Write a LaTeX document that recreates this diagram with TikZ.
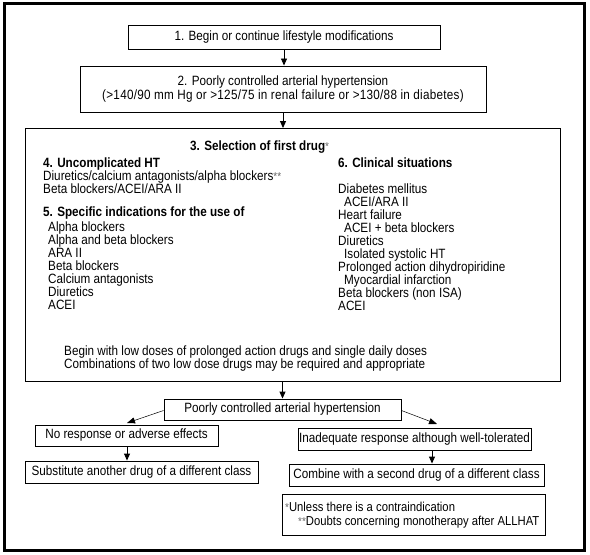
\documentclass[tikz,border=0pt]{standalone}
\usepackage{fontspec}
\setmainfont{Liberation Sans}[FakeStretch=0.87]
\usetikzlibrary{arrows.meta,calc}
\newcommand{\myast}[1]{{\mdseries\fontsize{11.5}{11.5}\selectfont\textcolor{black!60}{#1}}}
\begin{document}
\begin{tikzpicture}[x=1bp,y=-1bp,
  font=\fontsize{13.5}{13.5}\selectfont,
  box/.style={draw, line width=0.9bp, inner sep=0pt, align=center},
  txt/.style={anchor=west, inner sep=0pt, text height=9.5bp, text depth=3bp},
  hd/.style={txt, font=\fontsize{13.5}{13.5}\selectfont\bfseries},
  fnt/.style={txt, font=\fontsize{13}{13}\selectfont},
  arr/.style={-{Triangle[length=7bp,width=6bp]}, line width=0.9bp},
  tarr/.style={-{Triangle[length=8bp,width=6bp]}, line width=0.5bp}]
\useasboundingbox (0,0) rectangle (590,555);
\draw[line width=3bp] (4,4) rectangle (584,550);

\node[box, minimum width=312bp, minimum height=24bp] (b1) at (284,37)
  {1. Begin or continue lifestyle modifications};
\node[box, minimum width=406bp, minimum height=46bp] (b2) at (283,89)
  {2. Poorly controlled arterial hypertension\\
   {\addfontfeature{LetterSpace=2}(>140/90 mm Hg or >125/75 in renal failure or >130/88 in diabetes)}};
\node[box, minimum width=535bp, minimum height=253bp] (b3) at (292.5,255) {};

\node[txt] (t3) at (190,147) {\bfseries 3. Selection of first drug\myast{*}};
\node[hd] (t4) at (43,164) {4. Uncomplicated HT};
\node[txt] (t4a) at (43,177) {Diuretics/calcium antagonists/alpha blockers\myast{**}};
\node[txt] (t4b) at (43,190) {Beta blockers/ACEI/ARA II};
\node[hd] (t5) at (43,213) {5. Specific indications for the use of};
\node[txt] (t5a) at (48,228) {Alpha blockers};
\node[txt] (t5b) at (48,241) {Alpha and beta blockers};
\node[txt] (t5c) at (48,254) {ARA II};
\node[txt] (t5d) at (48,267) {Beta blockers};
\node[txt] (t5e) at (48,280) {Calcium antagonists};
\node[txt] (t5f) at (48,293) {Diuretics};
\node[txt] (t5g) at (48,306) {ACEI};

\node[hd] (t6) at (338,164) {6. Clinical situations};
\node[txt] (t6a) at (338,190) {Diabetes mellitus};
\node[txt] (t6b) at (344,203) {ACEI/ARA II};
\node[txt] (t6c) at (338,216) {Heart failure};
\node[txt] (t6d) at (344,229) {ACEI + beta blockers};
\node[txt] (t6e) at (338,242) {Diuretics};
\node[txt] (t6f) at (344,255) {Isolated systolic HT};
\node[txt] (t6g) at (338,268) {Prolonged action dihydropiridine};
\node[txt] (t6h) at (344,281) {Myocardial infarction};
\node[txt] (t6i) at (338,294) {Beta blockers (non ISA)};
\node[txt] (t6j) at (338,307) {ACEI};

\node[txt] (tb1) at (64,352) {Begin with low doses of prolonged action drugs and single daily doses};
\node[txt] (tb2) at (64,365) {Combinations of two low dose drugs may be required and appropriate};

\node[box, minimum width=237bp, minimum height=21bp] (pc) at (282.5,409.5)
  {Poorly controlled arterial hypertension};
\node[box, minimum width=183bp, minimum height=21bp] (nr) at (126.5,435.5)
  {No response or adverse effects};
\node[box, minimum width=233bp, minimum height=22bp] (sub) at (141.5,472)
  {Substitute another drug of a different class};
\node[box, minimum width=233bp, minimum height=22bp] (ina) at (414.5,439)
  {Inadequate response although well-tolerated};
\node[box, minimum width=255bp, minimum height=22bp] (com) at (416.5,475)
  {Combine with a second drug of a different class};
\node[box, minimum width=263bp, minimum height=41bp] (fn) at (413.5,515) {};
\node[fnt] (fn1) at (285,508) {\myast{*}Unless there is a contraindication};
\node[fnt] (fn2) at (298,522) {\myast{**}Doubts concerning monotherapy after ALLHAT};

\coordinate (nrTip) at (127,423);
\coordinate (inaTip) at (437,424);
\coordinate (inaOut) at (432,450);

\draw[arr] (b1.south) -- (b1.south |- b2.north);
\draw[arr] (b2.south) -- (b2.south |- b3.north);
\draw[arr] (b3.south -| pc.north) -- (pc.north);
\draw[tarr] ([yshift=-1bp]pc.west) -- (nrTip);
\draw[tarr] ([yshift=-1bp]pc.east) -- (inaTip);
\draw[arr] (nrTip |- nr.south) -- (nrTip |- sub.north);
\draw[arr] (inaOut) -- (inaOut |- com.north);
\end{tikzpicture}
\end{document}
